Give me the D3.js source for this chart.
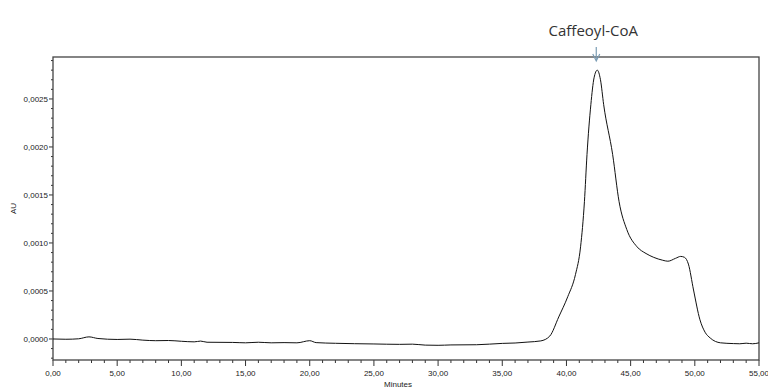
<!DOCTYPE html>
<html>
<head>
<meta charset="utf-8">
<script src="https://cdn.jsdelivr.net/npm/d3@7"></script>
<style>
  body { margin: 0; background: #fff; }
  svg { display: block; }
  .tick-label { font-family: "Liberation Sans", Arial, sans-serif; font-size: 8px; fill: #222; }
</style>
</head>
<body>
<div id="chart"></div>
<script>
// retention time (min) and absorbance (AU)
const minutes = [0, 1, 2, 2.8, 3.5, 5, 6, 7, 8, 9, 10, 11, 11.5, 12, 14, 15, 16, 17, 18, 19,
  20, 20.5, 22, 25, 27, 28, 29, 30, 31, 33, 35, 36, 37, 38, 38.7, 39.4, 40.1, 40.7, 41.1,
  41.4, 41.6, 41.9, 42.15, 42.4, 42.65, 42.9, 43.6, 44.1, 44.7, 45.5, 46.2, 46.8, 47.5,
  47.9, 48.5, 48.9, 49.2, 49.5, 49.9, 50.4, 50.8, 51.2, 52, 53, 53.5, 54, 54.5, 55];
const au = [0, -0.000003, 0.000002, 0.000022, 0.000005, -0.000005, -0.000002, -0.000012,
  -0.000018, -0.000016, -0.000024, -0.00003, -0.000022, -0.000034, -0.000036, -0.00004,
  -0.000034, -0.00004, -0.000038, -0.00004, -0.000018, -0.000038, -0.000045, -0.000052,
  -0.000056, -0.000054, -0.000064, -0.000066, -0.000062, -0.00006, -0.000046, -0.000042,
  -0.000032, -0.00002, 0.00003, 0.00023, 0.00044, 0.00067, 0.00096, 0.00143, 0.00192,
  0.00244, 0.00272, 0.0028, 0.0027, 0.00244, 0.00192, 0.00143, 0.00114, 0.00096, 0.00089,
  0.00085, 0.00082, 0.00081, 0.00084, 0.00086, 0.00085, 0.00078, 0.00051, 0.0002, 0.00007,
  0.00001, -0.00004, -0.000048, -0.00005, -0.000044, -0.00005, -0.00004];

const xMajor = [0, 5, 10, 15, 20, 25, 30, 35, 40, 45, 50, 55];
const yMajor = [0, 0.0005, 0.001, 0.0015, 0.002, 0.0025];
const peakLabel = "Caffeoyl-CoA";
const peakAt = 42.4;

const W = 768, H = 392;
const box = {left: 53, right: 759, top: 57, bottom: 360};

const svg = d3.select("#chart").append("svg")
    .attr("width", W)
    .attr("height", H);

const x = d3.scaleLinear().domain([0, 55]).range([box.left, box.right]);
const y = d3.scaleLinear().domain([-0.000219, 0.002937]).range([box.bottom, box.top]);

const comma = f => v => d3.format(f)(v).replace(".", ",");

// minor ticks every minute / every 0.0001 AU
const xMinor = d3.range(0, 56, 1);
const yMinor = d3.range(-0.0002, 0.00291, 0.0001);

const xAxis = svg.append("g")
    .attr("transform", `translate(0,${box.bottom})`);
xAxis.selectAll("line.minor")
    .data(xMinor).enter().append("line")
    .attr("x1", d => x(d)).attr("x2", d => x(d))
    .attr("y1", 0).attr("y2", d => d % 5 === 0 ? 6 : 3)
    .style("stroke", "#333").style("stroke-width", 1);
xAxis.selectAll("text")
    .data(xMajor).enter().append("text")
    .attr("class", "tick-label")
    .attr("x", d => x(d))
    .attr("y", 16)
    .attr("text-anchor", "middle")
    .text(comma(".2f"));

const yAxis = svg.append("g")
    .attr("transform", `translate(${box.left},0)`);
yAxis.selectAll("line.minor")
    .data(yMinor).enter().append("line")
    .attr("x1", d => Math.abs(Math.round(d * 10000)) % 5 === 0 ? -4 : -2).attr("x2", 0)
    .attr("y1", d => y(d)).attr("y2", d => y(d))
    .style("stroke", "#333").style("stroke-width", 1);
yAxis.selectAll("text")
    .data(yMajor).enter().append("text")
    .attr("class", "tick-label")
    .attr("x", -5)
    .attr("y", d => y(d))
    .attr("dy", "0.35em")
    .attr("text-anchor", "end")
    .text(comma(".4f"));

// frame
svg.append("rect")
    .attr("x", box.left).attr("y", box.top)
    .attr("width", box.right - box.left).attr("height", box.bottom - box.top)
    .style("fill", "none")
    .style("stroke", "#444")
    .style("stroke-width", 1.3);

// trace
const line = d3.line()
    .x((d, i) => x(minutes[i]))
    .y(d => y(d))
    .curve(d3.curveMonotoneX);

svg.append("path")
    .datum(au)
    .attr("d", line)
    .style("fill", "none")
    .style("stroke", "#111")
    .style("stroke-width", 1);

// axis titles
svg.append("text")
    .attr("x", (box.left + box.right) / 2 - 8)
    .attr("y", 387)
    .attr("text-anchor", "middle")
    .attr("class", "tick-label")
    .text("Minutes");

svg.append("text")
    .attr("transform", `translate(16,${(box.top + box.bottom) / 2}) rotate(-90)`)
    .attr("text-anchor", "middle")
    .attr("class", "tick-label")
    .text("AU");

// peak annotation
svg.append("text")
    .attr("x", x(peakAt) - 4)
    .attr("y", 36)
    .attr("text-anchor", "middle")
    .style("font-family", "'Open Sans', sans-serif")
    .style("font-size", "15px")
    .style("fill", "#333")
    .text(peakLabel);

const ax = x(peakAt) - 1;
svg.append("line")
    .attr("x1", ax).attr("x2", ax)
    .attr("y1", 47).attr("y2", 60)
    .style("stroke", "#7a9cb4").style("stroke-width", 1.2);
svg.append("path")
    .attr("d", `M${ax - 3.5},${54} L${ax},${61} L${ax + 3.5},${54}`)
    .style("fill", "none")
    .style("stroke", "#7a9cb4").style("stroke-width", 1.2);
</script>
</body>
</html>
